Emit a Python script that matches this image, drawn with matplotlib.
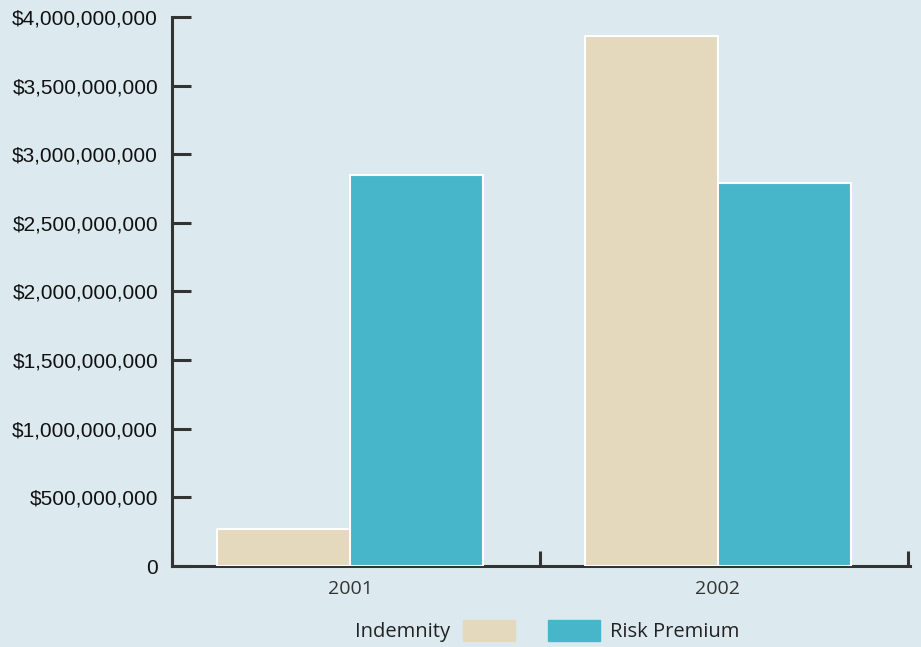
import numpy as np
import matplotlib
matplotlib.use("Agg")
import matplotlib.pyplot as plt
from matplotlib.patches import Rectangle
from matplotlib.ticker import FuncFormatter

# data
years = ["2001", "2002"]
indemnity = [270_000_000, 3_860_000_000]
risk_premium = [2_850_000_000, 2_790_000_000]
y_ticks = np.arange(0, 4_000_000_001, 500_000_000)

BG = "#dce9ef"
C_IND = "#e4d9bd"
C_RISK = "#47b6cb"
AX = "#333333"

fig = plt.figure(figsize=(9.21, 6.47), dpi=100, facecolor=BG)
ax = fig.add_axes([172 / 921, 1 - 566 / 647, (910 - 172) / 921, (566 - 17) / 647])
ax.set_facecolor(BG)

x = np.arange(len(years))
w = 0.362
ax.bar(x - w / 2, indemnity, w, color=C_IND, edgecolor="white", linewidth=1.5, zorder=3)
ax.bar(x + w / 2, risk_premium, w, color=C_RISK, edgecolor="white", linewidth=1.5, zorder=3)

ax.set_xlim(-0.484, 1.522)
ax.set_ylim(0, 4_000_000_000)

for s in ["top", "right"]:
    ax.spines[s].set_visible(False)
for s in ["left", "bottom"]:
    ax.spines[s].set_color(AX)
    ax.spines[s].set_linewidth(2.2)

ax.set_yticks(y_ticks)
ax.yaxis.set_major_formatter(FuncFormatter(lambda v, p: "0" if v == 0 else f"${v:,.0f}"))
ax.tick_params(axis="y", direction="in", length=14, width=2.2, color=AX, pad=10,
               labelsize=15, labelcolor="#111111")
for lbl in ax.get_yticklabels():
    lbl.set_family("Liberation Sans")

# category labels at bar groups, tick marks at group boundaries
ax.set_xticks([-0.484, 0.516, 1.516])
ax.set_xticklabels(["", "", ""])
ax.tick_params(axis="x", direction="in", length=11, width=2.2, color=AX)
ax.set_xticks(x, minor=True)
ax.set_xticklabels(years, minor=True, fontsize=14, color="#333333", family="Open Sans")
ax.tick_params(axis="x", which="minor", length=0, pad=10)

# legend
fig.text(450 / 921, 1 - 632 / 647, "Indemnity", ha="right", va="center",
         fontsize=14.5, color="#222222", family="Open Sans")
fig.patches.append(Rectangle((463 / 921, 1 - 641 / 647), 52 / 921, 21 / 647,
                             transform=fig.transFigure, color=C_IND))
fig.patches.append(Rectangle((548 / 921, 1 - 641 / 647), 52 / 921, 21 / 647,
                             transform=fig.transFigure, color=C_RISK))
fig.text(610 / 921, 1 - 632 / 647, "Risk Premium", ha="left", va="center",
         fontsize=14.5, color="#222222", family="Open Sans")

fig.savefig("out.png", dpi=100, facecolor=BG)
